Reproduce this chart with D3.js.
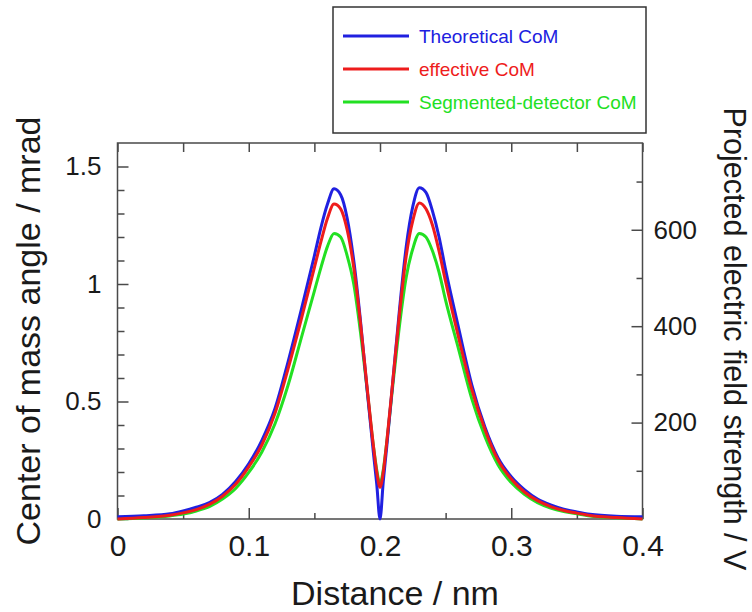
<!DOCTYPE html>
<html>
<head>
<meta charset="utf-8">
<script src="https://cdn.jsdelivr.net/npm/d3@7"></script>
<style>
  body { margin: 0; background: #fff; }
  svg { display: block; font-family: "Liberation Sans", Arial, sans-serif; }
</style>
</head>
<body>
<div id="chart"></div>
<script>
// Data
const distance = [0, 0.02, 0.04, 0.05, 0.06, 0.07, 0.08, 0.09, 0.10, 0.11, 0.12, 0.13, 0.14, 0.15,
  0.155, 0.16, 0.165, 0.17, 0.175, 0.18, 0.185, 0.19, 0.195, 0.1975, 0.2,
  0.2025, 0.205, 0.21, 0.215, 0.22, 0.225, 0.23, 0.235, 0.24, 0.245, 0.25, 0.26, 0.27, 0.28,
  0.29, 0.30, 0.31, 0.32, 0.33, 0.34, 0.35, 0.36, 0.38, 0.40];

const theoretical = [0.01, 0.014, 0.022, 0.034, 0.05, 0.07, 0.105, 0.16, 0.235, 0.335, 0.47, 0.67, 0.89, 1.12,
  1.24, 1.34, 1.405, 1.38, 1.28, 1.10, 0.85, 0.56, 0.28, 0.15, 0.0,
  0.16, 0.30, 0.60, 0.90, 1.16, 1.33, 1.41, 1.39, 1.31, 1.20, 1.06, 0.81, 0.57, 0.39,
  0.26, 0.18, 0.125, 0.085, 0.06, 0.042, 0.03, 0.02, 0.012, 0.01];

const effective = [0.0, 0.006, 0.016, 0.026, 0.04, 0.062, 0.097, 0.148, 0.222, 0.315, 0.45, 0.64, 0.85, 1.07,
  1.18, 1.28, 1.34, 1.32, 1.23, 1.07, 0.84, 0.57, 0.31, 0.20, 0.135,
  0.20, 0.32, 0.60, 0.88, 1.12, 1.27, 1.345, 1.32, 1.25, 1.14, 1.01, 0.77, 0.55, 0.38,
  0.25, 0.17, 0.115, 0.078, 0.053, 0.036, 0.025, 0.015, 0.006, 0.0];

const segmented = [0.0, 0.004, 0.013, 0.021, 0.034, 0.053, 0.085, 0.13, 0.198, 0.285, 0.405, 0.57, 0.77, 0.97,
  1.07, 1.16, 1.215, 1.20, 1.12, 1.00, 0.80, 0.56, 0.31, 0.21, 0.15,
  0.21, 0.32, 0.58, 0.83, 1.03, 1.15, 1.215, 1.20, 1.14, 1.05, 0.93, 0.72, 0.51, 0.35,
  0.23, 0.155, 0.105, 0.07, 0.047, 0.032, 0.022, 0.013, 0.005, 0.0];

const seriesNames = ["Theoretical CoM", "effective CoM", "Segmented-detector CoM"];
const seriesColors = ["#2020e0", "#ee1c1c", "#22e022"];

const xMajor = [0, 0.1, 0.2, 0.3, 0.4];
const xMinor = [0.05, 0.15, 0.25, 0.35];
const yMajor = [0, 0.5, 1, 1.5];
const yMinor = [0.1, 0.2, 0.3, 0.4, 0.6, 0.7, 0.8, 0.9, 1.1, 1.2, 1.3, 1.4];
const y2Major = [200, 400, 600];
const y2Minor = [100, 300, 500, 700];

// Layout
const width = 752, height = 612;
const margin = { top: 143, right: 109.5, bottom: 93, left: 117.5 };
const innerW = width - margin.left - margin.right;
const innerH = height - margin.top - margin.bottom;
const textColor = "#1a1a1a";
const frameColor = "#4a4a4a";

const svg = d3.select("#chart")
    .append("svg")
    .attr("width", width)
    .attr("height", height);

const g = svg.append("g")
    .attr("transform", `translate(${margin.left}, ${margin.top})`);

const x = d3.scaleLinear().domain([0, 0.4]).range([0, innerW]);
const y = d3.scaleLinear().domain([0, 1.6]).range([innerH, 0]);
const y2 = d3.scaleLinear().domain([0, 780]).range([innerH, 0]); // right axis, V

// axis helper: draw ticks inward, drop the domain path
function styleAxis(sel, fontSize) {
    sel.select(".domain").remove();
    sel.selectAll(".tick line").attr("stroke", frameColor).attr("stroke-width", 1.5);
    sel.selectAll(".tick text").attr("fill", textColor).style("font-size", fontSize + "px")
        .style("font-family", '"Liberation Sans", Arial, sans-serif');
}

// bottom
g.append("g").attr("transform", `translate(0, ${innerH})`)
    .call(d3.axisBottom(x).tickValues(xMajor).tickSize(-11).tickPadding(16).tickFormat(d => String(d)))
    .call(s => styleAxis(s, 30));
g.append("g").attr("transform", `translate(0, ${innerH})`)
    .call(d3.axisBottom(x).tickValues(xMinor).tickSize(-6).tickFormat(""))
    .call(s => styleAxis(s, 10));
// top
g.append("g")
    .call(d3.axisTop(x).tickValues(xMajor.concat(xMinor)).tickSize(-9).tickFormat(""))
    .call(s => styleAxis(s, 10));
// left
g.append("g")
    .call(d3.axisLeft(y).tickValues(yMajor).tickSize(-11).tickPadding(16).tickFormat(d => String(d)))
    .call(s => styleAxis(s, 26));
g.append("g")
    .call(d3.axisLeft(y).tickValues(yMinor).tickSize(-7).tickFormat(""))
    .call(s => styleAxis(s, 10));
// right
g.append("g").attr("transform", `translate(${innerW}, 0)`)
    .call(d3.axisRight(y2).tickValues(y2Major).tickSize(-11).tickPadding(11).tickFormat(d => String(d)))
    .call(s => styleAxis(s, 26));
g.append("g").attr("transform", `translate(${innerW}, 0)`)
    .call(d3.axisRight(y2).tickValues(y2Minor).tickSize(-6).tickFormat(""))
    .call(s => styleAxis(s, 10));

// frame
g.append("rect")
    .attr("width", innerW)
    .attr("height", innerH)
    .attr("fill", "none")
    .attr("stroke", frameColor)
    .attr("stroke-width", 1.5);

// curves (green under, red on top)
const line = d3.line()
    .x(d => x(d[0]))
    .y(d => y(d[1]))
    .curve(d3.curveMonotoneX);

const drawOrder = [
    { values: segmented, color: seriesColors[2] },
    { values: theoretical, color: seriesColors[0] },
    { values: effective, color: seriesColors[1] }
];
drawOrder.forEach(s => {
    g.append("path")
        .datum(distance.map((d, i) => [d, s.values[i]]))
        .attr("fill", "none")
        .attr("stroke", s.color)
        .attr("stroke-width", 3)
        .attr("stroke-linejoin", "round")
        .attr("d", line);
});

// axis titles
svg.append("text")
    .attr("x", 395)
    .attr("y", 605)
    .attr("text-anchor", "middle")
    .attr("fill", textColor)
    .style("font-size", "34px")
    .text("Distance / nm");

svg.append("text")
    .attr("transform", "translate(40, 331) rotate(-90)")
    .attr("text-anchor", "middle")
    .attr("fill", textColor)
    .style("font-size", "34px")
    .text("Center of mass angle / mrad");

svg.append("text")
    .attr("transform", "translate(724, 339) rotate(90)")
    .attr("text-anchor", "middle")
    .attr("fill", textColor)
    .style("font-size", "30.5px")
    .text("Projected electric field strength / V");

// legend
const legend = svg.append("g");
legend.append("rect")
    .attr("x", 333).attr("y", 7)
    .attr("width", 313).attr("height", 126)
    .attr("fill", "#fff")
    .attr("stroke", "#333")
    .attr("stroke-width", 1.5);

seriesNames.forEach((name, i) => {
    const ly = 36 + i * 33;
    legend.append("line")
        .attr("x1", 343).attr("x2", 409)
        .attr("y1", ly).attr("y2", ly)
        .attr("stroke", seriesColors[i])
        .attr("stroke-width", 3);
    legend.append("text")
        .attr("x", 419)
        .attr("y", ly + 7)
        .attr("fill", seriesColors[i])
        .style("font-size", "19px")
        .text(name);
});
</script>
</body>
</html>
